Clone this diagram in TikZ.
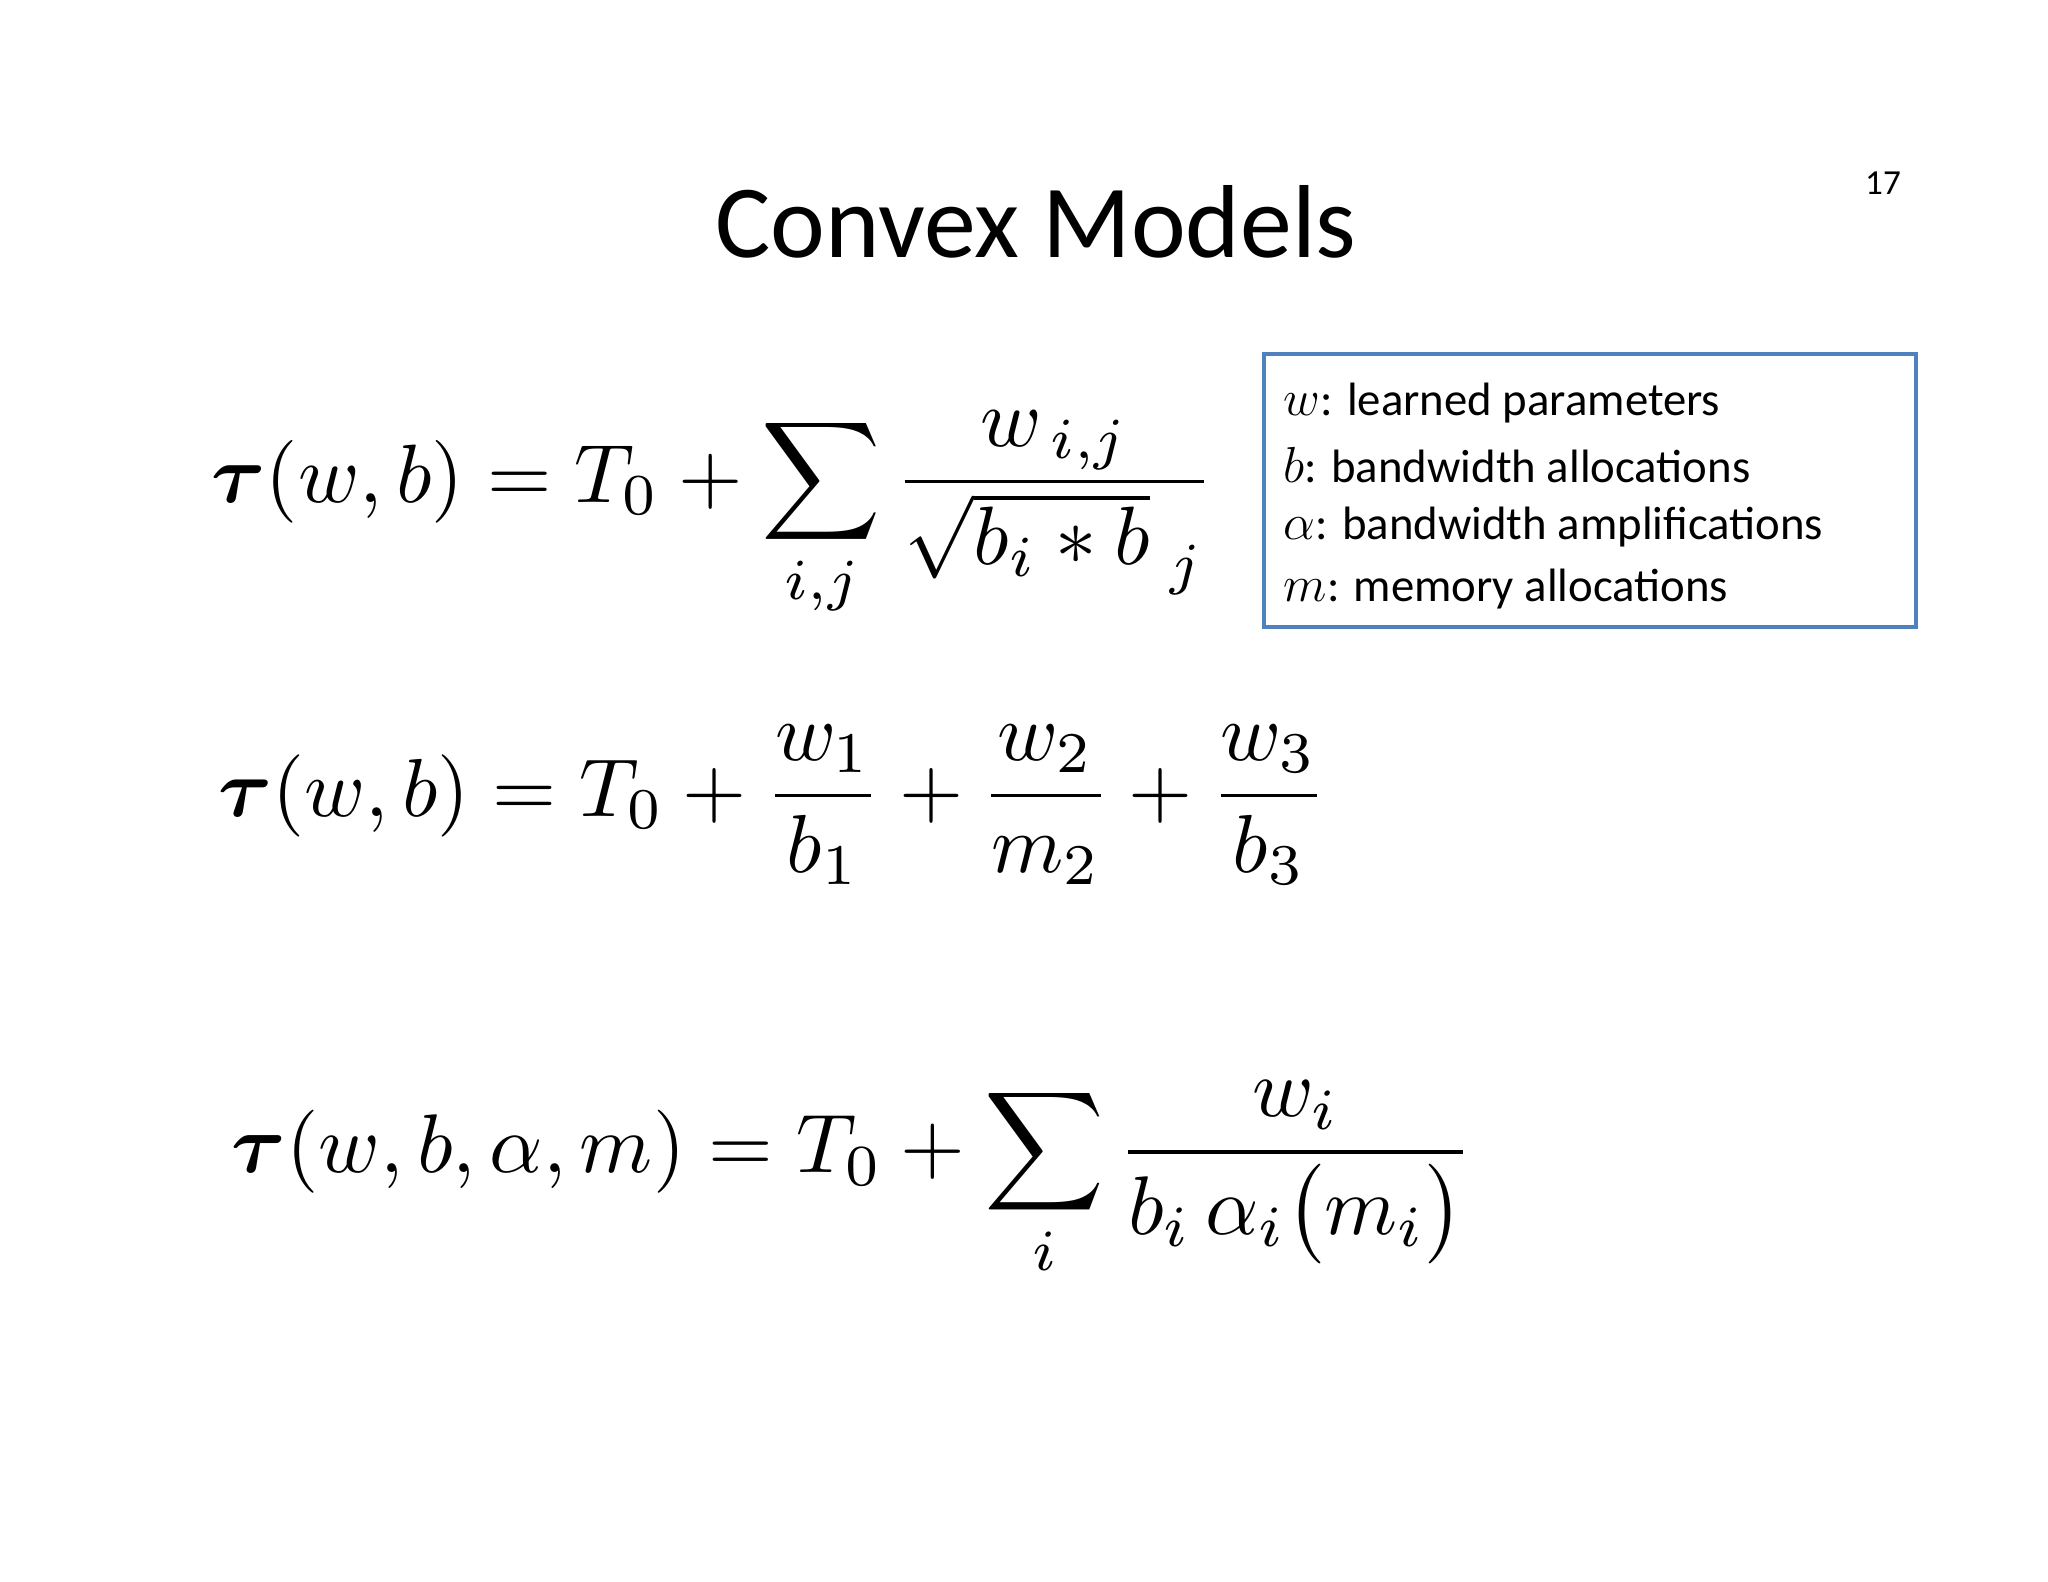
\documentclass[tikz,border=0pt]{standalone}
\usepackage{amsmath,bm}
\usepackage{fontspec}
\setmainfont{Carlito}
\begin{document}
\begin{tikzpicture}[x=0.01cm,y=-0.01cm]
\useasboundingbox[fill=white] (0,0) rectangle (2048,1582);
\tikzset{eq/.style={anchor=west,inner sep=0pt}, lbl/.style={anchor=west,inner sep=0pt,font=\fontsize{13.3}{16}\selectfont}}
\node[inner sep=0pt] (title) at (1036,222) {\fontsize{29.5}{36}\selectfont Convex Models};
\node[inner sep=0pt] (pg) at (1883,183) {\fontsize{10}{12}\selectfont 17};
\node[eq] (e1) at (211,515) {\resizebox{285pt}{!}{$\displaystyle \bm{\tau}(w,b)=T_0+\sum_{i,j}\frac{w_{\,i,j}}{\sqrt{b_i * b}_{\;j}}$}};
\node[eq] (e2) at (218,805) {\resizebox{315pt}{!}{$\displaystyle \bm{\tau}(w,b)=T_0+\frac{w_1}{b_1}+\frac{w_2}{m_2}+\frac{w_3}{b_3}$}};
\node[eq] (e3) at (231,1180) {\resizebox{353pt}{!}{$\displaystyle \bm{\tau}(w,b,\alpha,m)=T_0+\sum_{i}\frac{w_i}{b_i\,\alpha_i\bigl(m_i\bigr)}$}};
\draw[draw={rgb,255:red,79;green,129;blue,189},line width=1.2pt] (1264,354) rectangle (1916,627);
\node[lbl] (l1) at (1283,403) {$w$: learned parameters};
\node[lbl] (l2) at (1283,465) {$b$: bandwidth allocations};
\node[lbl] (l3) at (1283,527) {$\alpha$: bandwidth amplifications};
\node[lbl] (l4) at (1283,589) {$m$: memory allocations};
\end{tikzpicture}
\end{document}
